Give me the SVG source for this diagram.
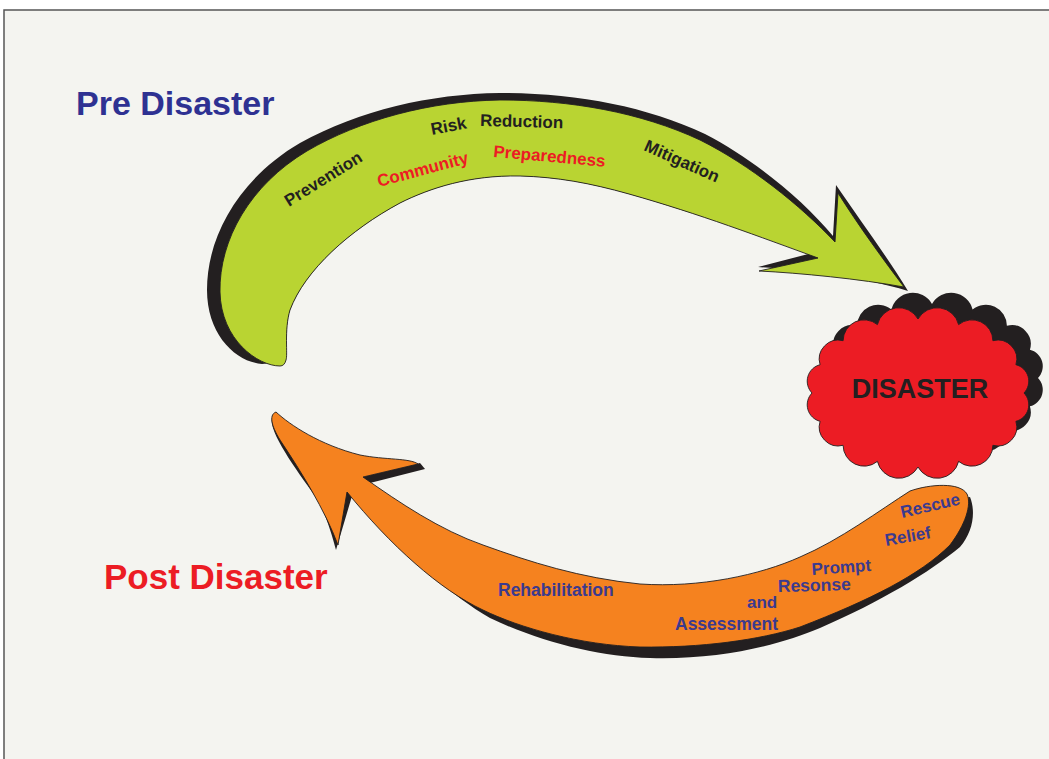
<svg xmlns="http://www.w3.org/2000/svg" width="1049" height="759" viewBox="0 0 1049 759">
<style>
.t{font-family:"Liberation Sans",Arial,sans-serif;font-weight:bold}
.blk{fill:#231f20}
.red{fill:#ec1c24}
.pur{fill:#3b3a8e}
.sh{fill:#231f20}
.edge{stroke:#231f20;stroke-width:0.9;stroke-linejoin:round}
</style>
<rect x="0" y="0" width="1049" height="759" fill="#ffffff"/>
<rect x="4" y="10" width="1050" height="760" fill="#f4f4f0" stroke="#555555" stroke-width="1.5"/>

<g id="connectors">
  <g id="pre-arrow">
    <path class="sh" d="M 262,364 C 236,362 207,335 207,290 C 207,235 240,178 300,143 C 360,110 430,94 500,93 C 575,93 645,106 705,134 C 755,160 803,200 833,236 L 836,185 C 860,220 888,258 908,291 C 860,276 800,270 758,267 L 816,252 C 760,237 700,214 629,194 C 590,183 557,177 520,176 C 470,175 430,188 400,203 C 350,230 305,270 290,310 C 284,330 288,355 284,362 Z"/>
    <path class="edge" fill="#b9d432" d="M 280,366 C 258,366 221,340 220,292 C 219,240 250,185 307,151 C 360,120 430,101 500,100 C 570,100 640,112 700,140 C 750,165 800,205 835,242 L 838,193 C 858,225 885,262 904,287 C 860,279 800,273 759,271 L 818,258 C 760,237 700,214 629,194 C 590,183 557,177 520,176 C 470,175 430,188 400,203 C 350,230 305,270 290,310 C 284,330 288,355 286,360 C 285,364 283,366 280,366 Z"/>
  </g>
  <g id="post-arrow">
    <path class="sh" d="M 272,418 C 268,432 300,475 318,500 C 326,515 332,535 336,550 L 352,496 C 400,550 450,595 490,618 C 540,642 600,657 650,658 C 720,660 780,645 820,628 C 880,602 930,572 960,547 C 973,532 976,512 970,497 L 950,500 L 800,590 L 640,615 L 483,575 L 380,500 L 340,480 L 290,440 Z"/>
    <polygon class="sh" points="358,478 420,463 425,469 366,484"/>
    <path class="edge" fill="#f5821f" d="M 276,412 C 290,425 320,445 360,455 C 385,460 410,458 418,464 L 363,477 C 400,503 440,530 483,545 C 530,562 580,578 640,584 C 700,588 760,575 800,557 C 840,540 880,510 910,491 C 930,484 960,482 967,494 C 972,505 965,525 950,545 C 920,575 870,600 800,627 C 760,640 700,648 640,647 C 580,645 520,628 483,610 C 440,590 390,545 347,492 L 338,545 C 325,510 300,470 282,443 C 272,428 268,415 276,412 Z"/>
  </g>
</g>

<g id="disaster">
  <path class="sh" transform="translate(14,-15)" d="M 1024,393 A 17 17 0 0 1 1015.9,421.3 A 19 19 0 0 1 992.9,445.3 A 21 21 0 0 1 958.6,461.4 A 22 22 0 0 1 918,467 A 22 22 0 0 1 877.4,461.4 A 21 21 0 0 1 843.1,445.3 A 19 19 0 0 1 820.1,421.3 A 17 17 0 0 1 812,393 A 17 17 0 0 1 820.1,364.7 A 19 19 0 0 1 843.1,340.7 A 21 21 0 0 1 877.4,324.6 A 22 22 0 0 1 918,319 A 22 22 0 0 1 958.6,324.6 A 21 21 0 0 1 992.9,340.7 A 19 19 0 0 1 1015.9,364.7 A 17 17 0 0 1 1024,393 Z"/>
  <path class="edge" fill="#ec1c24" d="M 1024,393 A 17 17 0 0 1 1015.9,421.3 A 19 19 0 0 1 992.9,445.3 A 21 21 0 0 1 958.6,461.4 A 22 22 0 0 1 918,467 A 22 22 0 0 1 877.4,461.4 A 21 21 0 0 1 843.1,445.3 A 19 19 0 0 1 820.1,421.3 A 17 17 0 0 1 812,393 A 17 17 0 0 1 820.1,364.7 A 19 19 0 0 1 843.1,340.7 A 21 21 0 0 1 877.4,324.6 A 22 22 0 0 1 918,319 A 22 22 0 0 1 958.6,324.6 A 21 21 0 0 1 992.9,340.7 A 19 19 0 0 1 1015.9,364.7 A 17 17 0 0 1 1024,393 Z"/>
  <text class="t blk" x="920" y="398" font-size="27" text-anchor="middle">DISASTER</text>
</g>

<g id="pre-title"><text class="t" x="76" y="115" font-size="34" fill="#2e3192">Pre Disaster</text></g>
<g id="post-title"><text class="t" x="104" y="589" font-size="35" fill="#ec1c24">Post Disaster</text></g>

<g id="pre-labels">
  <text class="t blk" font-size="17" transform="translate(289,207) rotate(-32)">Prevention</text>
  <text class="t blk" font-size="17" transform="translate(432,135) rotate(-11)">Risk</text>
  <text class="t blk" font-size="17" transform="translate(480,126) rotate(1.5)">Reduction</text>
  <text class="t red" font-size="17" transform="translate(379,187) rotate(-15)">Community</text>
  <text class="t red" font-size="17" transform="translate(493,157) rotate(5)">Preparedness</text>
  <text class="t blk" font-size="17" transform="translate(643,150) rotate(24)">Mitigation</text>
</g>

<g id="post-labels">
  <text class="t pur" font-size="17.5" x="498" y="596">Rehabilitation</text>
  <text class="t pur" font-size="17.5" x="675" y="630">Assessment</text>
  <text class="t pur" font-size="17" x="747" y="608">and</text>
  <text class="t pur" font-size="17.5" transform="translate(778,592) rotate(-1.5)">Resonse</text>
  <text class="t pur" font-size="17" transform="translate(812,575) rotate(-4)">Prompt</text>
  <text class="t pur" font-size="17" transform="translate(886,546) rotate(-10)">Relief</text>
  <text class="t pur" font-size="17" transform="translate(902,518) rotate(-13)">Rescue</text>
</g>
</svg>
